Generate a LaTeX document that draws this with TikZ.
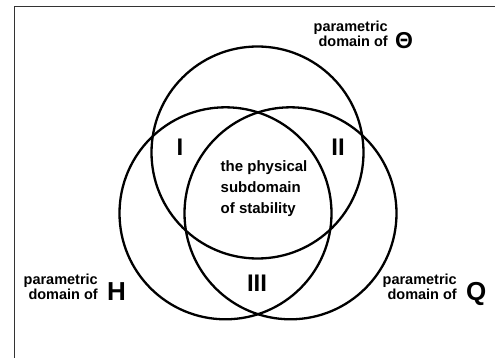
\documentclass[tikz,border=0pt]{standalone}
\usepackage{fontspec}
\setmainfont{Liberation Sans}
\begin{document}
\begin{tikzpicture}[x=1pt,y=-1pt,
  ring/.style={draw=black,line width=2.3pt},
  lbl/.style={font=\bfseries\fontsize{14.5}{13}\selectfont,align=right,inner sep=0pt},
  mid/.style={font=\bfseries\fontsize{15}{21}\selectfont,align=left,inner sep=0pt},
  roman/.style={font=\bfseries\fontsize{24}{24}\selectfont,inner sep=0pt},
  big/.style={font=\bfseries\fontsize{26}{26}\selectfont,inner sep=0pt}]
\useasboundingbox (0,0) rectangle (495,358);
\draw[line width=1pt,black!80] (14,358) -- (14,7) -- (495,7);
\draw[ring] (257.5,152.5) circle (106);
\draw[ring] (225.5,213.3) circle (106);
\draw[ring] (290.5,213.3) circle (106);
\node[lbl,anchor=east] (lt) at (388,34) {parametric\\domain of};
\node[font=\bfseries\fontsize{23}{23}\selectfont,inner sep=0pt] (th) at (404,41) {Θ};
\node[lbl,anchor=east] (lh) at (98,287) {parametric\\domain of};
\node[big,anchor=base west] (hh) at (107,300) {H};
\node[lbl,anchor=east] (lq) at (457,287) {parametric\\domain of};
\node[big,anchor=base west] (qq) at (466,300) {Q};
\node[roman] (r1) at (180,147) {I};
\node[roman] (r2) at (338,147) {II};
\node[roman] (r3) at (257,283) {III};
\node[mid,anchor=west] (c) at (220.5,189) {the physical\\subdomain\\of stability};
\end{tikzpicture}
\end{document}
